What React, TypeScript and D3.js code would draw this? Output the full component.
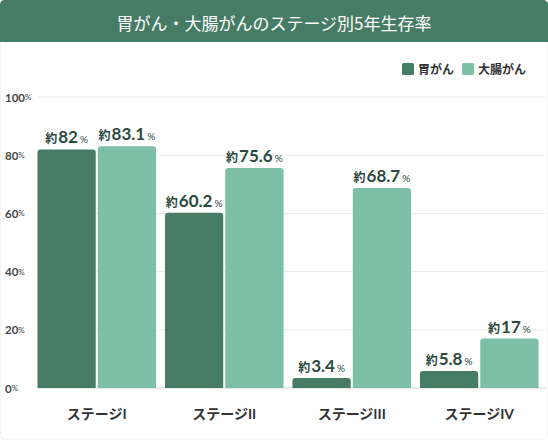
import React from "react";
import * as d3 from "d3";

const W = 548;
const H = 440;

const stages = ["ステージI", "ステージII", "ステージIII", "ステージIV"];
const seriesNames = ["胃がん", "大腸がん"];
const stomach = [82, 60.2, 3.4, 5.8];
const colon = [83.1, 75.6, 68.7, 17];
const yTicks = [0, 20, 40, 60, 80, 100];
const colors = ["#467c66", "#7dbfa7"];
const title = "胃がん・大腸がんのステージ別5年生存率";

const FONT = "Lato, 'Noto Sans CJK JP', 'Noto Sans', sans-serif";

export default function App() {
  const y = d3.scaleLinear().domain([0, 100]).range([388, 97]);
  const x0 = d3.scaleBand<string>().domain(stages).range([33, 543]).paddingInner(0.07).paddingOuter(0.035);
  const x1 = d3.scaleBand<string>().domain(seriesNames).range([0, x0.bandwidth()]).paddingInner(0.034);
  const values = [stomach, colon];

  const barPath = (x: number, y0: number, w: number, h: number, r: number) => {
    const rr = Math.min(r, h / 2, w / 2);
    return `M${x},${y0 + h}V${y0 + rr}Q${x},${y0} ${x + rr},${y0}H${x + w - rr}Q${x + w},${y0} ${x + w},${y0 + rr}V${y0 + h}Z`;
  };

  return (
    <svg width={W} height={H} style={{ position: "absolute", left: 0, top: 0 }} fontFamily={FONT}>
      <rect x={0.5} y={0.5} width={W - 1} height={H - 1} rx={5} fill="#ffffff" stroke="#f4f4f4" />
      <path d={`M0,42V5Q0,0 5,0H${W - 5}Q${W},0 ${W},5V42Z`} fill="#467c66" />
      <text x={W / 2} y={22} textAnchor="middle" dominantBaseline="central" fill="#ffffff" fontSize={17} fontFamily="'Noto Sans CJK JP', sans-serif">
        {title}
      </text>

      {/* legend */}
      {seriesNames.map((n, i) => {
        const lx = [402, 462][i];
        return (
          <g key={n}>
            <rect x={lx} y={63} width={12} height={12} rx={1.5} fill={colors[i]} />
            <text x={lx + 16} y={69} dominantBaseline="central" fontSize={12} fontWeight={700} fill="#333">
              {n}
            </text>
          </g>
        );
      })}

      {/* grid */}
      {yTicks.map((t) => (
        <g key={t}>
          <line x1={38} x2={546} y1={y(t)} y2={y(t)} stroke={t === 0 ? "#e2e2e2" : "#ececec"} strokeWidth={t === 0 ? 1.5 : 1} />
          <text x={5} y={y(t)} dominantBaseline="central" fill="#444" fontSize={11.5} fontWeight={700}>
            {t}
            <tspan fontSize={8} fontWeight={400}>%</tspan>
          </text>
        </g>
      ))}

      {/* bars */}
      {stages.map((s, si) => (
        <g key={s} transform={`translate(${x0(s)},0)`}>
          {seriesNames.map((n, ni) => {
            const v = values[ni][si];
            const bx = x1(n)!;
            const bw = x1.bandwidth();
            const top = y(v);
            return (
              <g key={n}>
                <path d={barPath(bx, top, bw, y(0) - top, 3)} fill={colors[ni]} />
                <text x={bx + bw / 2} y={top - 6} textAnchor="middle" fill="#2b4a3d" fontWeight={700}>
                  <tspan fontSize={12} fontFamily="'Noto Sans CJK JP', sans-serif">約</tspan>
                  <tspan fontSize={17} dx={1}>{v}</tspan>
                  <tspan fontSize={10} fontWeight={400} dx={2}>%</tspan>
                </text>
              </g>
            );
          })}
          <text x={x0.bandwidth() / 2} y={413} textAnchor="middle" dominantBaseline="central" fontSize={14} fontWeight={700} fill="#333">
            {s}
          </text>
        </g>
      ))}
    </svg>
  );
}
